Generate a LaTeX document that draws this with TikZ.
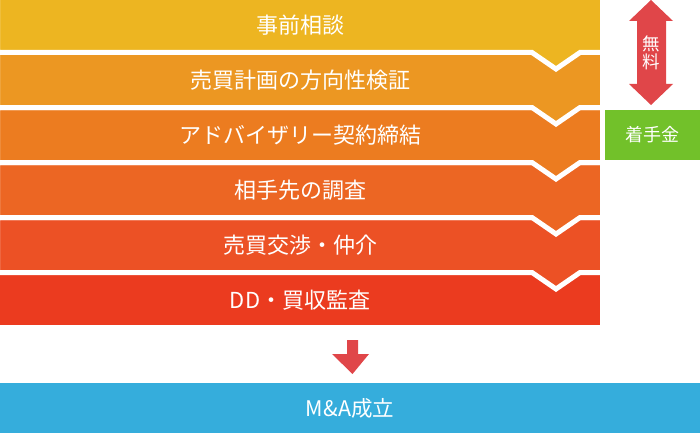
\documentclass[tikz,border=0pt]{standalone}
\usepackage{fontspec}
\setmainfont{Noto Sans CJK JP}
\definecolor{stepA}{HTML}{EDB521}
\definecolor{stepB}{HTML}{EC9722}
\definecolor{stepC}{HTML}{EC7C20}
\definecolor{stepD}{HTML}{EC6623}
\definecolor{stepE}{HTML}{EC5125}
\definecolor{stepF}{HTML}{EB3B1F}
\definecolor{doneblue}{HTML}{35ADDC}
\definecolor{feegreen}{HTML}{72C12A}
\definecolor{arrowred}{HTML}{E04649}

\begin{document}
\begin{tikzpicture}[x=1pt,y=-1pt,
    band/.style={draw=white,line width=5pt,line join=miter},
    step text/.style={text=white,font=\fontsize{22}{26}\selectfont,inner sep=0pt}]
        \useasboundingbox (0,0) rectangle (700,433);

        % bands, drawn from the bottom up so each chevron lies on the next
        \fill[stepF] (0,275) rectangle (600,325);
        \foreach \k/\c in {4/stepE,3/stepD,2/stepC,1/stepB,0/stepA}{
            \pgfmathsetmacro{\t}{55*\k}
            \filldraw[band,fill=\c] (-2.5,\t-2.5) -- (602.5,\t-2.5) -- (602.5,\t+52.5)
                -- (580,\t+52.5) -- (556,\t+69) -- (532,\t+52.5) -- (-2.5,\t+52.5) -- cycle;
        }

        \node[step text] (s1) at (300,25) {事前相談};
        \node[step text] (s2) at (300,80) {売買計画の方向性検証};
        \node[step text] (s3) at (300,135) {アドバイザリー契約締結};
        \node[step text] (s4) at (300,190) {相手先の調査};
        \node[step text] (s5) at (300,245) {売買交渉・仲介};
        \node[step text] (s6) at (300,300) {DD・買収監査};

        % free / fee
        \fill[arrowred] (651,0) -- (673,21) -- (666,21) -- (666,84) -- (673,84) -- (651,105)
            -- (629,84) -- (637,84) -- (637,21) -- (629,21) -- cycle;
        \node[step text,font=\fontsize{17.5}{18}\selectfont,align=center] (free) at (651,53) {無\\料};
        \fill[feegreen] (605,110) rectangle (700,160);
        \node[step text,font=\fontsize{18}{20}\selectfont] (fee) at (652.5,135) {着手金};

        % closing
        \fill[doneblue] (0,383) rectangle (700,433);
        \node[step text,font=\fontsize{21.5}{24}\selectfont] (done) at (350,408) {M\&A成立};
        \fill[arrowred] (347,340) -- (358,340) -- (358,354) -- (369,354) -- (352.5,374)
            -- (332,354) -- (347,354) -- cycle;

                \end{tikzpicture}
\end{document}
